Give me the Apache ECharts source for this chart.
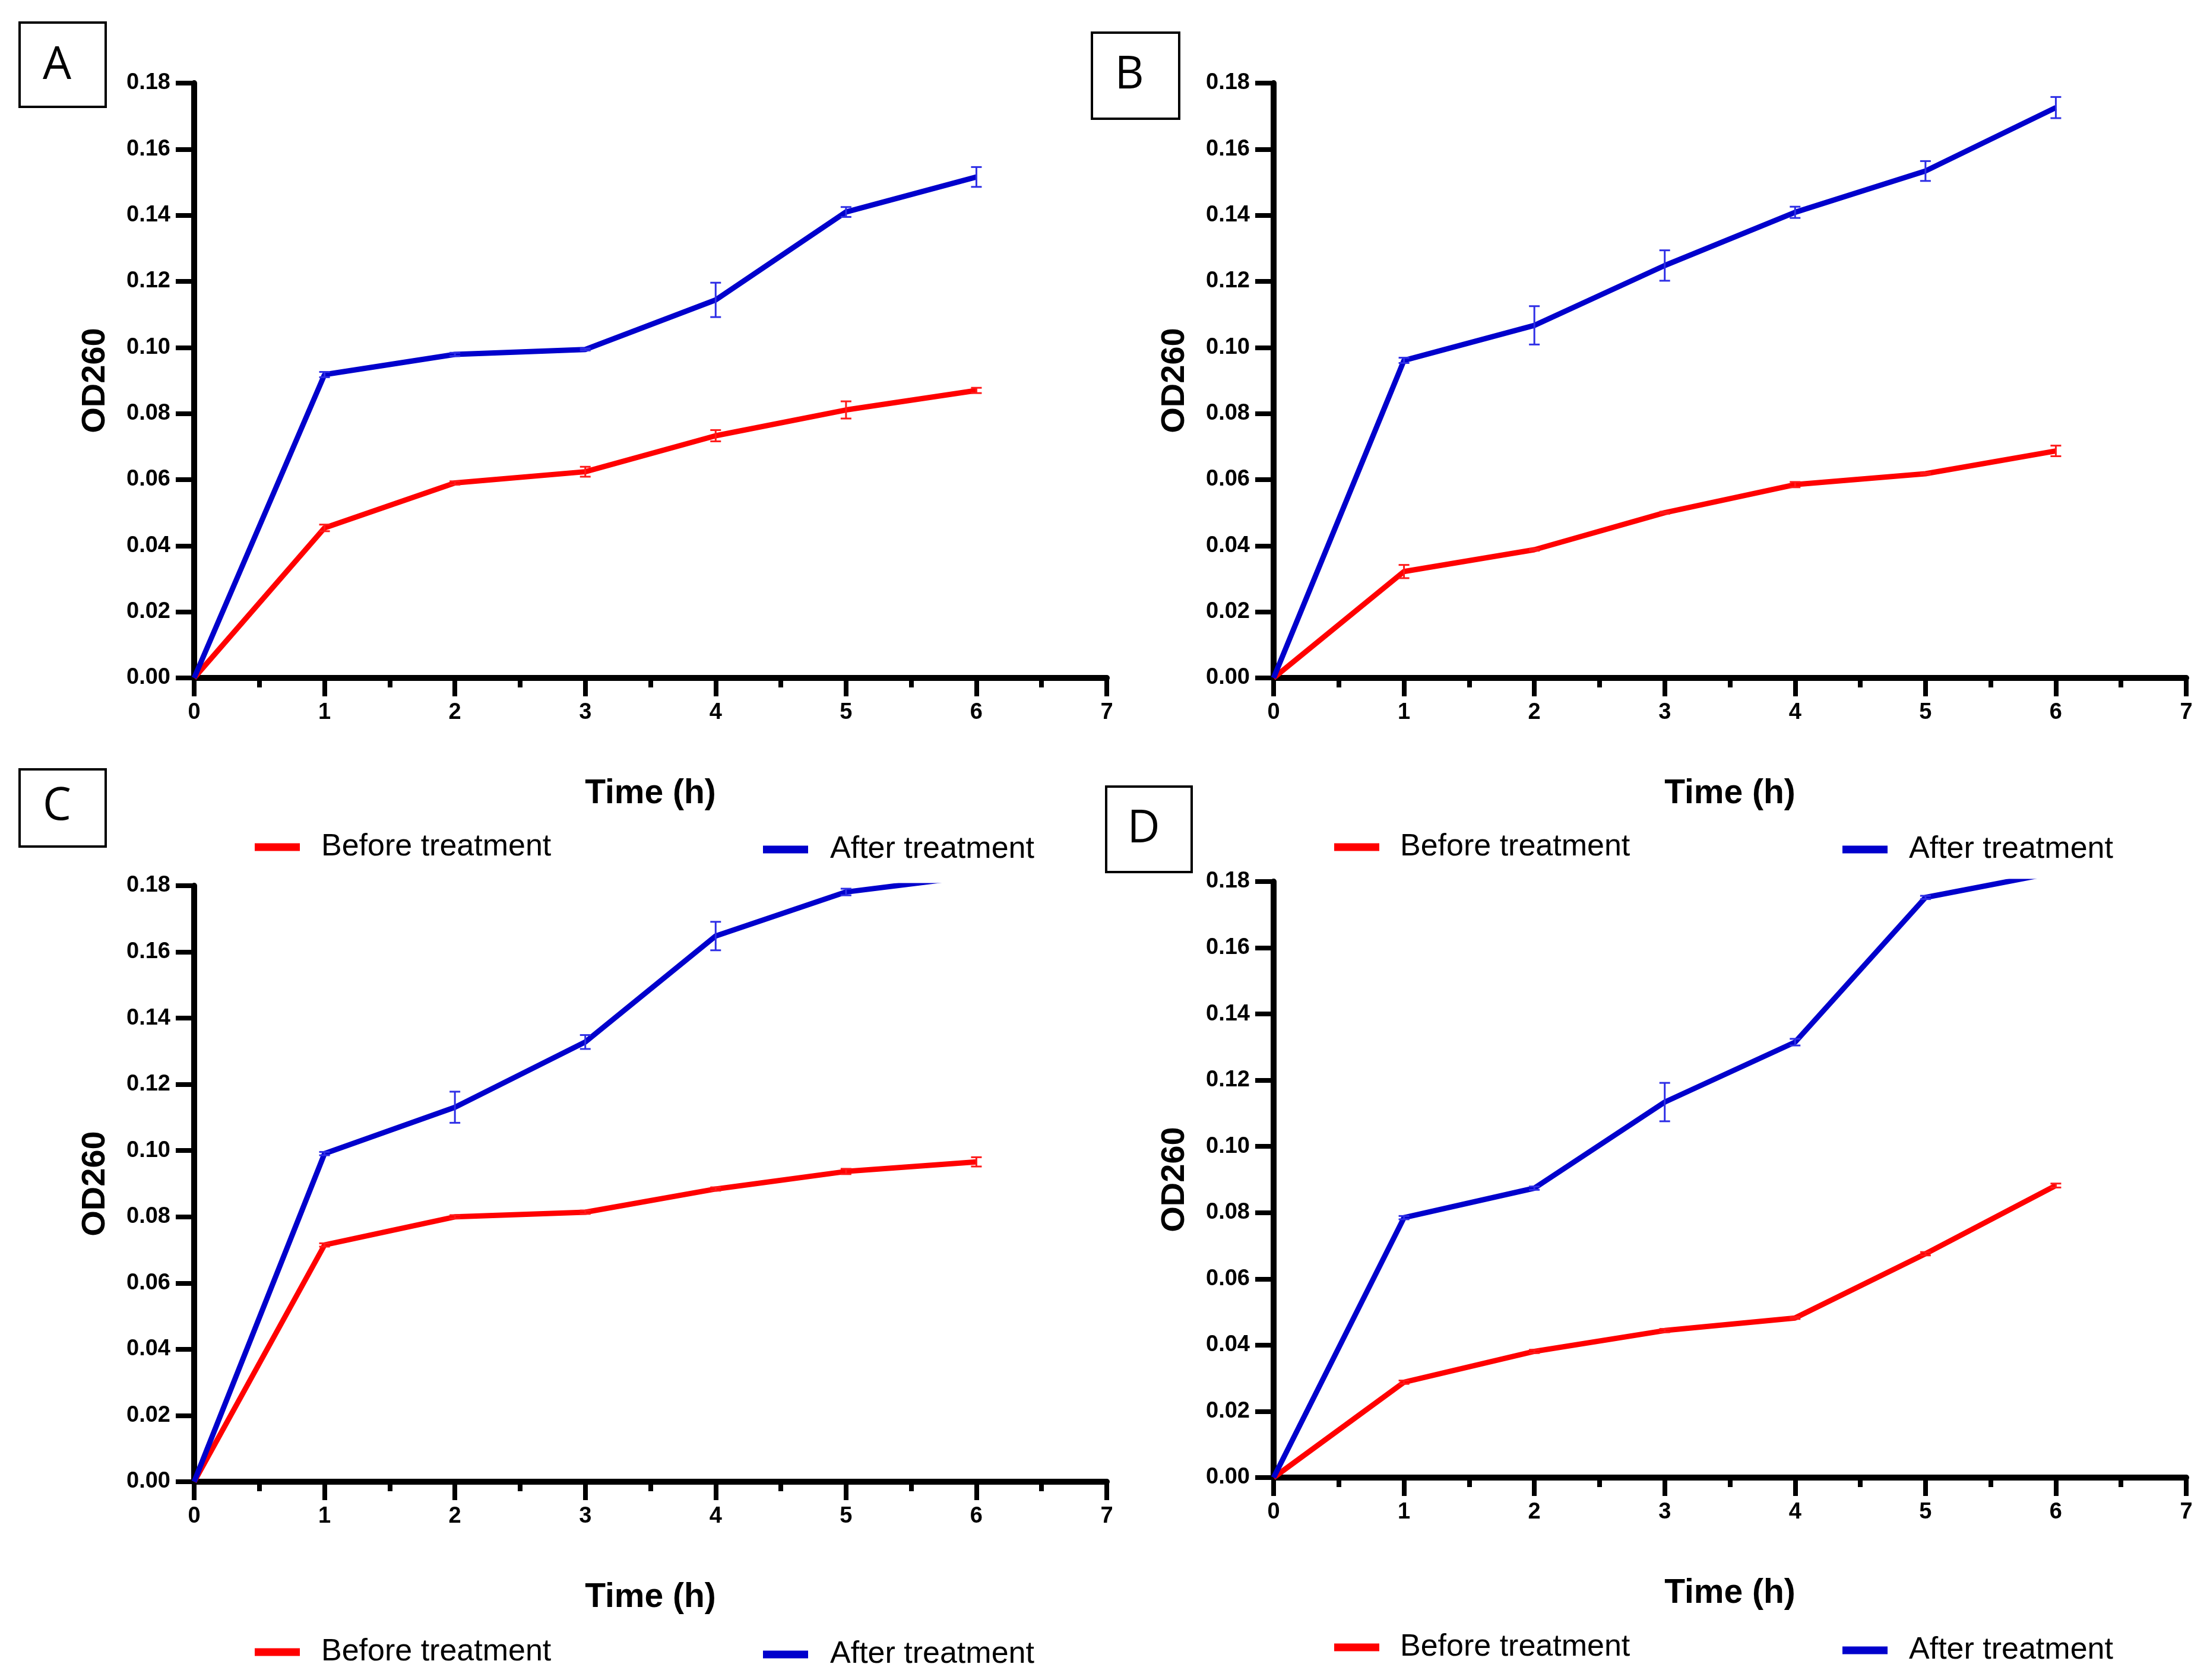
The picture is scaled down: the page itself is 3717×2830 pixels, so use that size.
<!DOCTYPE html>
<html>
<head>
<meta charset="utf-8">
<script src="https://cdn.jsdelivr.net/npm/echarts@6/dist/echarts.min.js"></script>
<style>
html,body{margin:0;padding:0;background:#fff;}
#chart{width:3717px;height:2830px;}
</style>
</head>
<body>
<div id="chart"></div>
<script>
// ---------- data ----------
const timeH = [0, 1, 2, 3, 4, 5, 6];
const yTicks = [0, 0.02, 0.04, 0.06, 0.08, 0.10, 0.12, 0.14, 0.16, 0.18];
const seriesNames = ['Before treatment', 'After treatment'];
const panelLetters = ['A', 'B', 'C', 'D'];

const beforeA   = [0, 0.0454, 0.0590, 0.0624, 0.0733, 0.0811, 0.0870];
const afterA    = [0, 0.0918, 0.0979, 0.0994, 0.1144, 0.1410, 0.1516];
const beforeSdA = [0, 0.0010, 0.0005, 0.0015, 0.0017, 0.0026, 0.0008];
const afterSdA  = [0, 0.0008, 0.0005, 0.0003, 0.0052, 0.0015, 0.0030];

const beforeB   = [0, 0.0322, 0.0388, 0.0500, 0.0585, 0.0618, 0.0687];
const afterB    = [0, 0.0961, 0.1067, 0.1248, 0.1409, 0.1534, 0.1726];
const beforeSdB = [0, 0.0020, 0.0003, 0.0003, 0.0008, 0.0003, 0.0016];
const afterSdB  = [0, 0.0008, 0.0058, 0.0046, 0.0017, 0.0030, 0.0032];

const beforeC   = [0, 0.0715, 0.0800, 0.0814, 0.0884, 0.0937, 0.0966];
const afterC    = [0, 0.0991, 0.1131, 0.1328, 0.1648, 0.1781, 0.1830];
const beforeSdC = [0, 0.0005, 0.0005, 0.0005, 0.0005, 0.0008, 0.0014];
const afterSdC  = [0, 0.0005, 0.0047, 0.0021, 0.0043, 0.0010, 0.0010];

const beforeD   = [0, 0.0288, 0.0381, 0.0444, 0.0482, 0.0676, 0.0882];
const afterD    = [0, 0.0785, 0.0874, 0.1134, 0.1315, 0.1752, 0.1828];
const beforeSdD = [0, 0.0005, 0.0005, 0.0005, 0.0003, 0.0005, 0.0006];
const afterSdD  = [0, 0.0005, 0.0005, 0.0058, 0.0010, 0.0005, 0.0005];

const panelData = [
  [beforeA, afterA, beforeSdA, afterSdA],
  [beforeB, afterB, beforeSdB, afterSdB],
  [beforeC, afterC, beforeSdC, afterSdC],
  [beforeD, afterD, beforeSdD, afterSdD]
];

// ---------- layout ----------
const grids = [
  {left: 327,  top: 140,  width: 1537, height: 1002},
  {left: 2145, top: 140,  width: 1537, height: 1002},
  {left: 327,  top: 1492, width: 1537, height: 1004},
  {left: 2145, top: 1485, width: 1537, height: 1004}
];
const legendPos = [
  {red: [429, 1401],  blue: [1285, 1405], padR: 31, padB: 32},
  {red: [2247, 1401], blue: [3103, 1405], padR: 30, padB: 31},
  {red: [429, 2757],  blue: [1285, 2761], padR: 31, padB: 32},
  {red: [2247, 2749], blue: [3103, 2754], padR: 30, padB: 31}
];
const boxes = [
  {x: 33,   y: 38,   w: 145, h: 142, tx: 96,   ty: 111},
  {x: 1839, y: 55,   w: 147, h: 145, tx: 1902, ty: 127},
  {x: 33,   y: 1296, w: 145, h: 130, tx: 96,   ty: 1359},
  {x: 1863, y: 1325, w: 144, h: 144, tx: 1926, ty: 1397}
];

const RED = '#FF0000';
const BLUE = '#0000CC';
const ERR_BLUE = '#2E2EE6';
const ERR_RED = '#FF1A1A';
const sans = '"Liberation Sans", Arial, sans-serif';
const tickFont = {fontFamily: sans, fontWeight: 'bold', fontSize: 38, color: '#000'};

function errRender(color) {
  return function (params, api) {
    const x = api.value(0), y = api.value(1), e = api.value(2);
    const top = api.coord([x, y + e]);
    const bot = api.coord([x, y - e]);
    const hw = 9;
    const style = {stroke: color, lineWidth: 3};
    return {
      type: 'group',
      children: [
        {type: 'line', shape: {x1: top[0], y1: top[1], x2: bot[0], y2: bot[1]}, style: style},
        {type: 'line', shape: {x1: top[0] - hw, y1: top[1], x2: top[0] + hw, y2: top[1]}, style: style},
        {type: 'line', shape: {x1: bot[0] - hw, y1: bot[1], x2: bot[0] + hw, y2: bot[1]}, style: style}
      ]
    };
  };
}

const xAxes = [], yAxes = [], series = [], legends = [], graphics = [];

grids.forEach(function (g, i) {
  xAxes.push({
    type: 'value', gridIndex: i, min: 0, max: 7, interval: 1,
    name: 'Time (h)', nameLocation: 'middle', nameGap: 167,
    nameTextStyle: {fontFamily: sans, fontWeight: 'bold', fontSize: 57, color: '#000', lineHeight: 57},
    axisLine: {show: true, lineStyle: {color: '#000', width: 10}},
    axisTick: {show: true, length: 31, lineStyle: {color: '#000', width: 8}},
    minorTick: {show: true, splitNumber: 2, length: 16, lineStyle: {color: '#000', width: 8}},
    axisLabel: Object.assign({margin: 40}, tickFont),
    splitLine: {show: false},
    minorSplitLine: {show: false}
  });
  yAxes.push({
    type: 'value', gridIndex: i, min: 0, max: 0.18, interval: 0.02,
    name: 'OD260', nameLocation: 'middle', nameGap: 138,
    nameTextStyle: {fontFamily: sans, fontWeight: 'bold', fontSize: 56, color: '#000', lineHeight: 56},
    axisLine: {show: true, lineStyle: {color: '#000', width: 10}},
    axisTick: {show: true, length: 31, lineStyle: {color: '#000', width: 8}},
    axisLabel: Object.assign({margin: 40, formatter: function (v) { return v.toFixed(2); }}, tickFont),
    splitLine: {show: false}
  });

  const d = panelData[i];
  const lineData = function (arr) { return timeH.map(function (t, k) { return [t, arr[k]]; }); };
  const errData = function (arr, sd) {
    return timeH.map(function (t, k) { return [t, arr[k], sd[k]]; }).filter(function (p) { return p[0] > 0; });
  };

  series.push({
    type: 'line', name: seriesNames[0], xAxisIndex: i, yAxisIndex: i,
    data: lineData(d[0]), showSymbol: false, symbol: 'none', clip: true,
    lineStyle: {color: RED, width: 9}, itemStyle: {color: RED}, z: 2
  });
  series.push({
    type: 'custom', name: seriesNames[0] + ' SD', xAxisIndex: i, yAxisIndex: i,
    data: errData(d[0], d[2]), renderItem: errRender(ERR_RED), clip: true, z: 3
  });
  series.push({
    type: 'line', name: seriesNames[1], xAxisIndex: i, yAxisIndex: i,
    data: lineData(d[1]), showSymbol: false, symbol: 'none', clip: true,
    lineStyle: {color: BLUE, width: 9}, itemStyle: {color: BLUE}, z: 4
  });
  series.push({
    type: 'custom', name: seriesNames[1] + ' SD', xAxisIndex: i, yAxisIndex: i,
    data: errData(d[1], d[3]), renderItem: errRender(ERR_BLUE), clip: true, z: 5
  });

  const lp = legendPos[i];
  [[seriesNames[0], lp.red, lp.padR, RED], [seriesNames[1], lp.blue, lp.padB, BLUE]].forEach(function (it) {
    legends.push({
      data: [{name: it[0], icon: 'rect', itemStyle: {color: it[3]}}],
      left: it[1][0], top: it[1][1], padding: 0,
      itemWidth: 76, itemHeight: 13, selectedMode: false,
      textStyle: {fontFamily: sans, fontSize: 52, color: '#000', lineHeight: 52, padding: [0, 0, 0, it[2]]}
    });
  });

  const b = boxes[i];
  graphics.push({
    type: 'rect', shape: {x: b.x, y: b.y, width: b.w, height: b.h},
    style: {fill: 'none', stroke: '#000', lineWidth: 4}, z: 10
  });
  graphics.push({
    type: 'text', x: b.tx, y: b.ty,
    style: {text: panelLetters[i], fontFamily: '"Open Sans", "Noto Sans", sans-serif', fontSize: 76, fill: '#000', textAlign: 'center', textVerticalAlign: 'middle'},
    z: 10
  });
});

const chart = echarts.init(document.getElementById('chart'), null, {width: 3717, height: 2830, renderer: 'canvas'});
chart.setOption({
  animation: false,
  backgroundColor: '#fff',
  grid: grids,
  xAxis: xAxes,
  yAxis: yAxes,
  legend: legends,
  series: series,
  graphic: graphics
});
</script>
</body>
</html>
